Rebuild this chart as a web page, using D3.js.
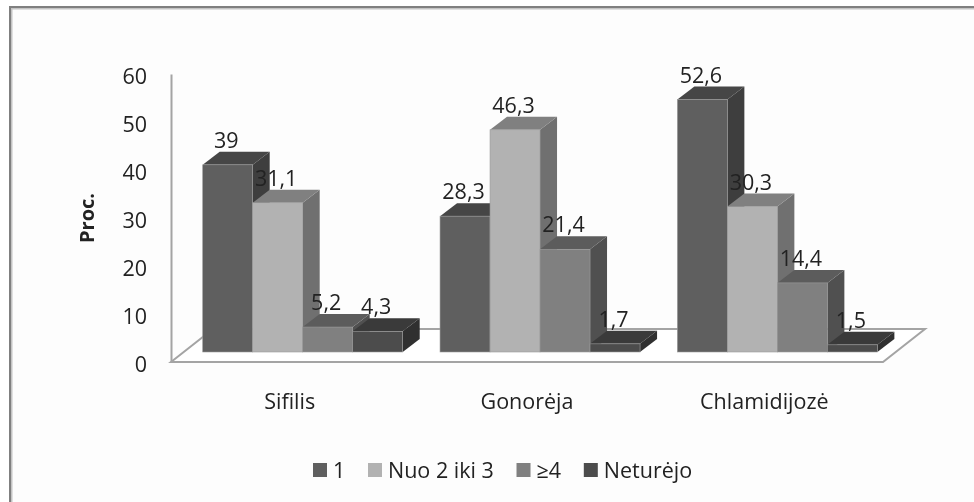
<!DOCTYPE html>
<html>
<head>
<meta charset="utf-8">
<script src="https://cdn.jsdelivr.net/npm/d3@7"></script>
<style>
    html, body { margin: 0; padding: 0; background: #fff; }
    svg { display: block; filter: blur(0.45px); }
    text { font-family: "Open Sans", "Noto Sans", sans-serif; fill: #222; }
</style>
</head>
<body>
<svg id="chart"></svg>
<script>
const categories = ["Sifilis", "Gonorėja", "Chlamidijozė"];
const seriesNames = ["1", "Nuo 2 iki 3", "≥4", "Neturėjo"];
const sifilis = [39, 31.1, 5.2, 4.3];
const gonoreja = [28.3, 46.3, 21.4, 1.7];
const chlamidijoze = [52.6, 30.3, 14.4, 1.5];
const yTicks = [0, 10, 20, 30, 40, 50, 60];

const seriesByCategory = [sifilis, gonoreja, chlamidijoze];

// front, top and side shade of each series
const fronts = ["#5f5f5f", "#b2b2b2", "#808080", "#4c4c4c"];
const tops = ["#464646", "#808080", "#5c5c5c", "#3a3a3a"];
const sides = ["#3e3e3e", "#707070", "#505050", "#303030"];

const width = 974, height = 502;
const svg = d3.select("#chart").attr("width", width).attr("height", height);

// page area, the frame is only on the left and top
svg.append("rect")
    .attr("x", 10).attr("y", 7)
    .attr("width", width - 10).attr("height", height - 7)
    .attr("fill", "#fdfdfd");
svg.append("path")
    .attr("d", `M${width},8.5 H11.5 V${height}`)
    .attr("fill", "none")
    .attr("stroke", "#c4c4c4")
    .attr("stroke-width", 2);
svg.append("path")
    .attr("d", `M${width},7 H10 V${height}`)
    .attr("fill", "none")
    .attr("stroke", "#808080")
    .attr("stroke-width", 2);

const x = d3.scaleBand().domain(categories).range([171, 883]);
const xBar = d3.scaleBand().domain(d3.range(4)).range([31.7, 231.7]);
const y = d3.scaleLinear().domain([0, 60]).range([362, 74]);

// how far the bars and the back wall sit from the axis plane
const barLift = 10;
const barDepth = { dx: 17, dy: 13 };
const floorDepth = { dx: 42, dy: 33 };

// floor
const floorPath = d3.path();
floorPath.moveTo(x.range()[0], y(0));
floorPath.lineTo(x.range()[0] + floorDepth.dx, y(0) - floorDepth.dy);
floorPath.lineTo(x.range()[1] + floorDepth.dx, y(0) - floorDepth.dy);
floorPath.lineTo(x.range()[1], y(0));
floorPath.closePath();
svg.append("path")
    .attr("d", floorPath.toString())
    .attr("fill", "#fff")
    .attr("stroke", "#a4a4a4")
    .attr("stroke-width", 2);

// value axis
const yAxis = d3.axisLeft(y).tickValues(yTicks).tickSize(0).tickPadding(24);
const yAxisG = svg.append("g")
    .attr("transform", `translate(${x.range()[0]},0)`)
    .call(yAxis);
yAxisG.select(".domain").attr("stroke", "#a4a4a4").attr("stroke-width", 2);
yAxisG.selectAll("text")
    .style("font-size", "21.5px")
    .attr("dy", "0.42em");

svg.append("text")
    .attr("transform", "translate(94,218) rotate(-90)")
    .attr("text-anchor", "middle")
    .style("font-size", "20px")
    .style("font-weight", "bold")
    .text("Proc.");

// category labels
svg.selectAll(".cat")
    .data(categories)
    .join("text")
    .attr("class", "cat")
    .attr("x", d => x(d) + x.bandwidth() / 2)
    .attr("y", 409)
    .attr("text-anchor", "middle")
    .style("font-size", "21.5px")
    .text(d => d);

function barHeight(v) {
    return y(0) - y(v);
}

const groups = svg.selectAll(".group")
    .data(categories)
    .join("g")
    .attr("class", "group")
    .attr("transform", d => `translate(${x(d)},${y(0) - barLift})`);

const bars = groups.selectAll(".bar")
    .data((d, i) => seriesByCategory[i].map((v, s) => ({ v, s })))
    .join("g")
    .attr("class", "bar");

// side face
bars.append("path")
    .attr("d", d => {
        const r = xBar(d.s) + xBar.bandwidth();
        const h = barHeight(d.v);
        return `M${r},0 L${r + barDepth.dx},${-barDepth.dy} L${r + barDepth.dx},${-h - barDepth.dy} L${r},${-h} Z`;
    })
    .attr("fill", d => sides[d.s]);

// top face
bars.append("path")
    .attr("d", d => {
        const l = xBar(d.s), r = l + xBar.bandwidth();
        const h = barHeight(d.v);
        return `M${l},${-h} L${l + barDepth.dx},${-h - barDepth.dy} L${r + barDepth.dx},${-h - barDepth.dy} L${r},${-h} Z`;
    })
    .attr("fill", d => tops[d.s]);

// front face
bars.append("rect")
    .attr("x", d => xBar(d.s))
    .attr("y", d => -barHeight(d.v))
    .attr("width", xBar.bandwidth())
    .attr("height", d => barHeight(d.v))
    .attr("fill", d => fronts[d.s])
    .attr("stroke", "#9a9a9a")
    .attr("stroke-width", 0.6);

// value labels go last so they lie over the neighbouring bars
groups.selectAll(".val")
    .data((d, i) => seriesByCategory[i].map((v, s) => ({ v, s })))
    .join("text")
    .attr("class", "val")
    .attr("x", d => xBar(d.s) + xBar.bandwidth() / 2 - 1.5)
    .attr("y", d => -barHeight(d.v) - barDepth.dy - 4)
    .attr("text-anchor", "middle")
    .style("font-size", "21.5px")
    .text(d => String(d.v).replace(".", ","));

// legend
const legend = svg.append("g").attr("transform", "translate(313,470)");
let legendX = 0;
seriesNames.forEach((name, i) => {
    legend.append("rect")
        .attr("x", legendX).attr("y", -7)
        .attr("width", 14).attr("height", 14)
        .attr("fill", fronts[i]);
    const label = legend.append("text")
        .attr("x", legendX + 20)
        .attr("y", 8)
        .style("font-size", "21.5px")
        .text(name);
    legendX += 20 + label.node().getComputedTextLength() + 22.7;
});
</script>
</body>
</html>
